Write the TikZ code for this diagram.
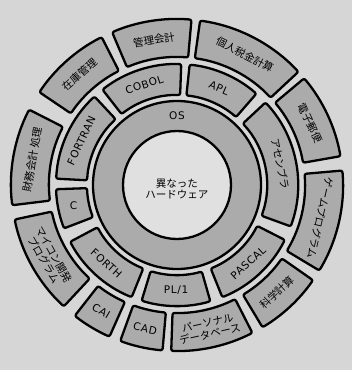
\documentclass[tikz,border=0pt]{standalone}
\usepackage{fontspec}
\setmainfont{Noto Sans CJK JP}
\newfontfamily\latin[LetterSpace=6]{DejaVu Sans}
\usepackage{tikz}
\usetikzlibrary{positioning}
\definecolor{paper}{gray}{0.84}
\definecolor{segfill}{gray}{0.67}
\definecolor{core}{gray}{0.88}

\begin{document}
\begin{tikzpicture}[
    x=1pt, y=1pt,
    seg/.style={draw, fill=segfill, line width=2.3pt, rounded corners=2pt, line join=round},
    lbl/.style={align=center, font=\fontsize{10.5}{11.5}\selectfont, inner sep=0pt}
]
    % 背景
    \fill[paper] (-177,-185) rectangle (175,185);
    \useasboundingbox (-177,-185) rectangle (175,185);

    % OS の輪と中心
    \draw[seg, rounded corners=0pt] (0,0) circle[radius=84];
    \node[lbl] (os) at (90:69) {\latin OS};
    \draw[line width=2.3pt, fill=core] (0,0) circle[radius=54];
    \node[lbl] (hw) at (0,-4) {異なった\\ハードウェア};

    % 言語の輪
    \foreach \a/\b/\rot/\id/\txt in {
        88/128/18/cobol/{\latin COBOL},
        133/177/65/fortran/{\latin FORTRAN},
        182/201/0/clang/{\latin C},
        208/248/-42/forth/{\latin FORTH},
        253/286/0/pl1/{\latin PL/1},
        292/333/42.5/pascal/{\latin PASCAL},
        -20/43/-78.5/asm/アセンブラ,
        49/84/-23.5/apl/{\latin APL}}{
        \draw[seg] (\a:90) arc[start angle=\a, end angle=\b, radius=90]
            -- (\b:121) arc[start angle=\b, end angle=\a, radius=121] -- cycle;
        \node[lbl, rotate=\rot] (\id) at ({(\a+\b)/2}:105.5) {\txt};
    }

    % 応用の輪
    \foreach \a/\b/\rot/\id/\txt in {
        85/113/9/kanri/管理会計,
        117/146/41.5/zaiko/在庫管理,
        153/187/80/zaimu/財務会計 処理,
        192/227/-60.5/mycom/{マイコン開発\\プログラム},
        232/246/-31/cai/{\latin CAI},
        250/265/-12.5/cad/{\latin CAD},
        268/297/12.5/pdb/{パーソナル\\データベース},
        301/325/43/kagaku/科学計算,
        329/365/-103/game/ゲームプログラム,
        10/40/-65/mail/電子郵便,
        43/82/-27.5/zeikin/個人税金計算}{
        \draw[seg] (\a:128) arc[start angle=\a, end angle=\b, radius=128]
            -- (\b:166) arc[start angle=\b, end angle=\a, radius=166] -- cycle;
        \node[lbl, rotate=\rot] (\id) at ({(\a+\b)/2}:147) {\txt};
    }
\end{tikzpicture}
\end{document}
